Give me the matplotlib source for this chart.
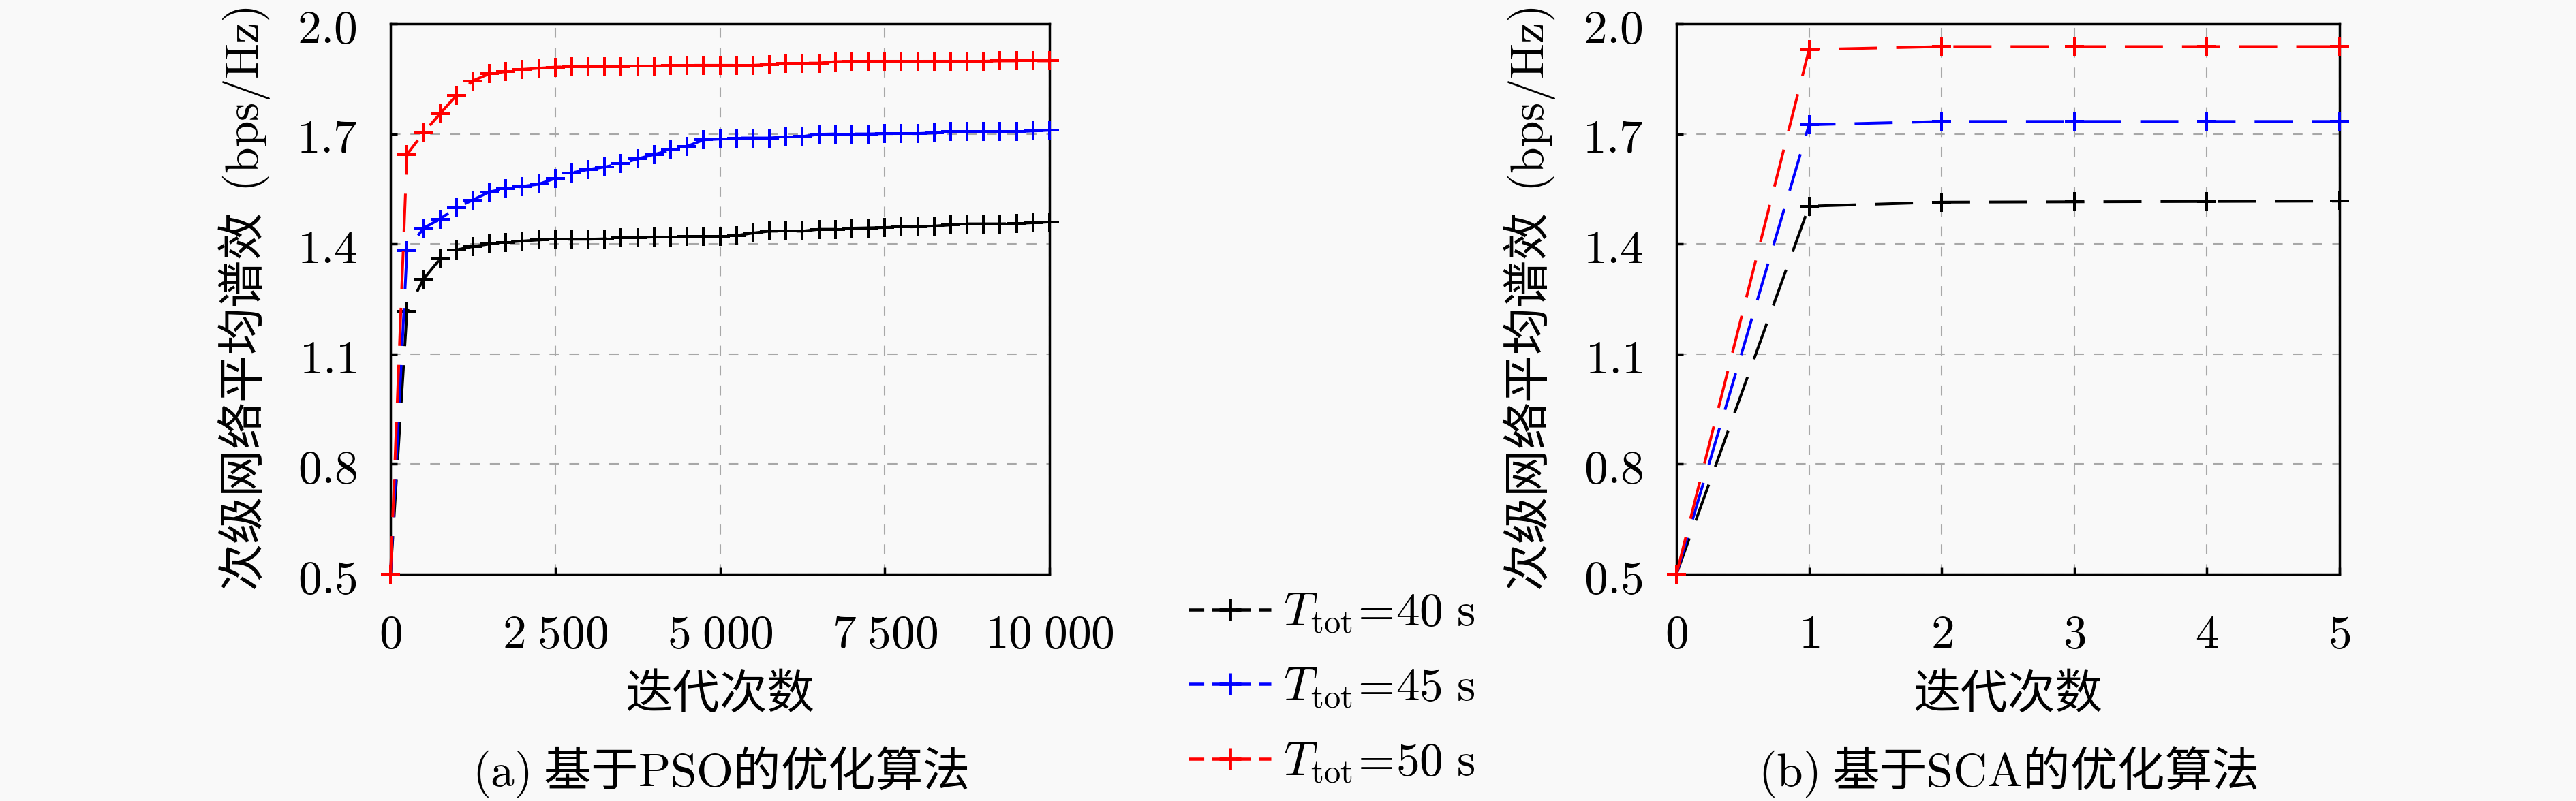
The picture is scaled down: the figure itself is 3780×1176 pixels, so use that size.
import matplotlib
matplotlib.use("Agg")
import matplotlib.pyplot as plt
from matplotlib.lines import Line2D

plt.rcParams['font.family'] = ['Noto Sans CJK SC', 'DejaVu Sans']
plt.rcParams['mathtext.fontset'] = 'cm'
plt.rcParams['font.size'] = 20

# (a) PSO, iterations every 250
iters_pso = list(range(0, 10001, 250))
pso_40 = [0.50, 1.217, 1.304, 1.359, 1.384, 1.393, 1.400, 1.405, 1.408, 1.411,
          1.413, 1.413, 1.413, 1.414, 1.418, 1.418, 1.419, 1.419, 1.420, 1.420,
          1.421, 1.423, 1.430, 1.435, 1.435, 1.435, 1.440, 1.440, 1.443, 1.444,
          1.445, 1.446, 1.447, 1.449, 1.452, 1.455, 1.455, 1.455, 1.456, 1.458,
          1.460]
pso_45 = [0.50, 1.381, 1.443, 1.468, 1.499, 1.520, 1.542, 1.551, 1.557, 1.563,
          1.579, 1.594, 1.603, 1.610, 1.619, 1.632, 1.644, 1.656, 1.666, 1.684,
          1.686, 1.689, 1.689, 1.689, 1.692, 1.693, 1.699, 1.700, 1.700, 1.700,
          1.701, 1.701, 1.701, 1.703, 1.706, 1.706, 1.706, 1.706, 1.706, 1.708,
          1.710]
pso_50 = [0.50, 1.644, 1.703, 1.755, 1.805, 1.845, 1.864, 1.870, 1.876, 1.879,
          1.882, 1.883, 1.883, 1.884, 1.884, 1.885, 1.885, 1.886, 1.887, 1.887,
          1.887, 1.887, 1.887, 1.889, 1.892, 1.893, 1.893, 1.897, 1.898, 1.898,
          1.898, 1.898, 1.898, 1.898, 1.898, 1.898, 1.898, 1.899, 1.899, 1.899,
          1.899]

# (b) SCA
iters_sca = [0, 1, 2, 3, 4, 5]
sca_40 = [0.50, 1.503, 1.514, 1.515, 1.516, 1.517]
sca_45 = [0.50, 1.725, 1.734, 1.734, 1.734, 1.734]
sca_50 = [0.50, 1.930, 1.938, 1.938, 1.938, 1.938]

labels = [r'$T_{\mathrm{tot}}\!=\!40\ \mathrm{s}$',
          r'$T_{\mathrm{tot}}\!=\!45\ \mathrm{s}$',
          r'$T_{\mathrm{tot}}\!=\!50\ \mathrm{s}$']
colors = ['#000000', '#0000ff', '#ff0000']

yticks = [0.5, 0.8, 1.1, 1.4, 1.7, 2.0]
ytick_labels = [r'$0.5$', r'$0.8$', r'$1.1$', r'$1.4$', r'$1.7$', r'$2.0$']
xticks_a = [0, 2500, 5000, 7500, 10000]
xtick_labels_a = [r'$0$', r'$2\;500$', r'$5\;000$', r'$7\;500$', r'$10\;000$']
xticks_b = [0, 1, 2, 3, 4, 5]
xtick_labels_b = [r'$0$', r'$1$', r'$2$', r'$3$', r'$4$', r'$5$']

ylabel = '次级网络平均谱效  $(\\mathrm{bps/Hz})$'
xlabel = '迭代次数'
captions = ['$\\mathrm{(a)}$ 基于$\\mathrm{PSO}$的优化算法',
            '$\\mathrm{(b)}$ 基于$\\mathrm{SCA}$的优化算法']

bg = '#f9f9f9'
fig = plt.figure(figsize=(15.12, 4.704), dpi=250, facecolor=bg)
ax1 = fig.add_axes([0.1516, 0.2832, 0.2558, 0.6870])
ax2 = fig.add_axes([0.6508, 0.2832, 0.2574, 0.6870])

dash = (14, 7)
for ys, c in zip([pso_40, pso_45, pso_50], colors):
    ax1.plot(iters_pso, ys, color=c, linestyle='--', dashes=dash, lw=1.15,
             marker='+', ms=8, mew=1.15, clip_on=False, zorder=3)
for ys, c in zip([sca_40, sca_45, sca_50], colors):
    ax2.plot(iters_sca, ys, color=c, linestyle='--', dashes=dash, lw=1.15,
             marker='+', ms=8, mew=1.15, clip_on=False, zorder=3)

for ax, xt, xtl, xl in [(ax1, xticks_a, xtick_labels_a, (0, 10000)),
                        (ax2, xticks_b, xtick_labels_b, (0, 5))]:
    ax.set_facecolor(bg)
    ax.set_xlim(*xl)
    ax.set_ylim(0.5, 2.0)
    ax.set_xticks(xt)
    ax.set_xticklabels(xtl)
    ax.set_yticks(yticks)
    ax.set_yticklabels(ytick_labels)
    ax.tick_params(direction='in', length=3, width=1.0, labelsize=20)
    ax.tick_params(axis='x', pad=15)
    ax.tick_params(axis='y', pad=14)
    ax.grid(True, color='#a8a8a8', linestyle=(0, (7, 7)), linewidth=0.6)
    for s in ax.spines.values():
        s.set_linewidth(1.0)
    ax.set_xlabel(xlabel, fontsize=20)
    ax.set_ylabel(ylabel, fontsize=20)
    ax.xaxis.set_label_coords(0.5, -0.175)
    ax.yaxis.set_label_coords(-0.18, 0.5)

for ax, cap in zip([ax1, ax2], captions):
    pos = ax.get_position()
    fig.text((pos.x0 + pos.x1) / 2, 0.0366, cap, ha='center', va='center',
             fontsize=20)

handles = [Line2D([], [], color=c, linestyle='--', dashes=(5.0, 2.6), lw=1.3,
                  marker='+', ms=9, mew=1.4) for c in colors]
fig.legend(handles, labels, loc='center', bbox_to_anchor=(0.517, 0.142),
           frameon=False, handlelength=1.75, handletextpad=0.25,
           labelspacing=0.55, fontsize=20, numpoints=1)

fig.savefig('out.png', dpi=250, facecolor=bg)
